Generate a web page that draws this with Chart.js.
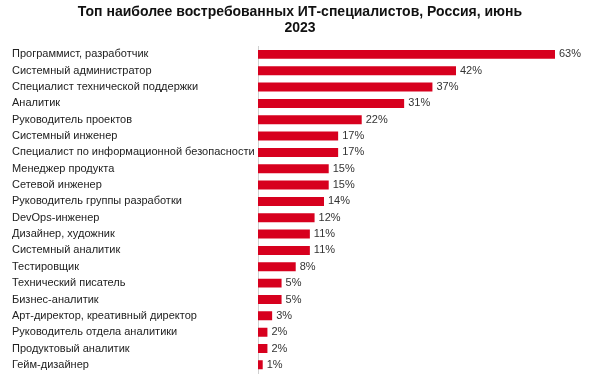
<!DOCTYPE html>
<html>
<head>
<meta charset="utf-8">
<script src="https://cdn.jsdelivr.net/npm/chart.js@4"></script>
<style>
  body { margin: 0; background: #fff; }
  #wrap { width: 600px; height: 384px; }
</style>
</head>
<body>
<div id="wrap"><canvas id="chart"></canvas></div>
<script>
const titleLines = ["Топ наиболее востребованных ИТ-специалистов, Россия, июнь", "2023"];

const categories = [
  "Программист, разработчик",
  "Системный администратор",
  "Специалист технической поддержки",
  "Аналитик",
  "Руководитель проектов",
  "Системный инженер",
  "Специалист по информационной безопасности",
  "Менеджер продукта",
  "Сетевой инженер",
  "Руководитель группы разработки",
  "DevOps-инженер",
  "Дизайнер, художник",
  "Системный аналитик",
  "Тестировщик",
  "Технический писатель",
  "Бизнес-аналитик",
  "Арт-директор, креативный директор",
  "Руководитель отдела аналитики",
  "Продуктовый аналитик",
  "Гейм-дизайнер"
];

const shares = [63, 42, 37, 31, 22, 17, 17, 15, 15, 14, 12, 11, 11, 8, 5, 5, 3, 2, 2, 1];

// value labels to the right of each bar
const valueLabels = {
  id: "valueLabels",
  afterDatasetsDraw(chart) {
    const ctx = chart.ctx;
    const meta = chart.getDatasetMeta(0);
    ctx.save();
    ctx.font = "11px 'Liberation Sans', Arial, sans-serif";
    ctx.fillStyle = "#333";
    ctx.textAlign = "left";
    ctx.textBaseline = "middle";
    meta.data.forEach((bar, i) => {
      ctx.fillText(shares[i] + "%", bar.x + 4, bar.y);
    });
    ctx.restore();
  }
};

new Chart(document.getElementById("chart"), {
  type: "bar",
  data: {
    labels: categories,
    datasets: [{
      data: shares,
      backgroundColor: "#d7001e",
      barPercentage: 0.55,
      categoryPercentage: 1
    }]
  },
  options: {
    indexAxis: "y",
    responsive: true,
    maintainAspectRatio: false,
    animation: false,
    layout: { padding: { left: 12, right: 12, top: 2, bottom: 11 } },
    plugins: {
      legend: { display: false },
      tooltip: { enabled: false },
      title: {
        display: true,
        text: titleLines,
        color: "#111",
        font: { family: "'Liberation Sans', Arial, sans-serif", size: 14, weight: "bold", lineHeight: 1.15 },
        padding: { top: 2, bottom: 10 }
      }
    },
    scales: {
      x: {
        display: false,
        min: 0,
        max: 70
      },
      y: {
        grid: { display: false, drawTicks: false },
        border: { display: true, color: "#d0d0d0" },
        ticks: {
          crossAlign: "far",
          padding: 4,
          color: "#222",
          font: { family: "'Liberation Sans', Arial, sans-serif", size: 11 }
        },
        afterFit(scale) { scale.width = 246; }
      }
    }
  },
  plugins: [valueLabels]
});
</script>
</body>
</html>
